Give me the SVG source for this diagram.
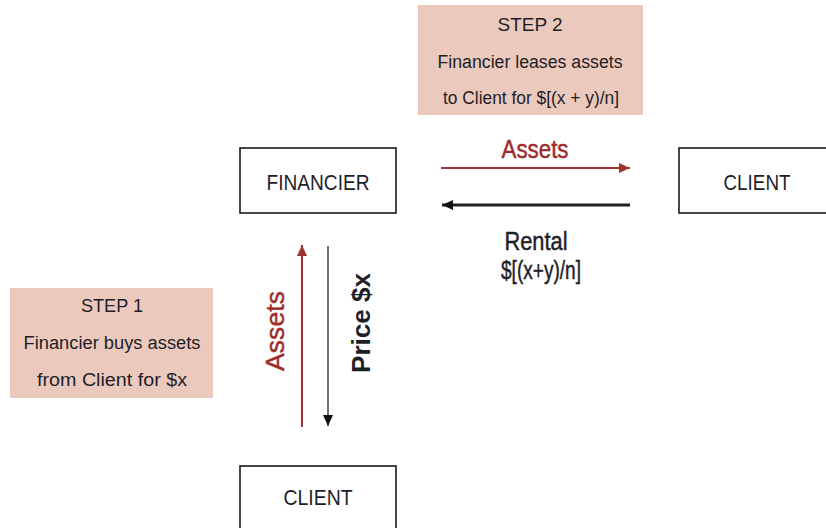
<svg xmlns="http://www.w3.org/2000/svg" width="826" height="528" viewBox="0 0 826 528">
  <style>
    .box { fill: #ffffff; stroke: #1a1a1a; stroke-width: 1.6; }
    .note { fill: #ecc9bd; stroke: none; }
    .t { font-family: "Liberation Sans", Arial, sans-serif; fill: #1e1e28; text-anchor: middle; }
    .nt { font-size: 18px; }
    .bt { font-size: 22px; }
    .lbl { font-size: 25px; stroke: #1e1e28; stroke-width: 0.45; }
    .red { fill: #9c2d2b; stroke: #9c2d2b; stroke-width: 0.45; }
    .red-line { stroke: #a0322f; stroke-width: 2; fill: none; }
    .blk-line { stroke: #222222; fill: none; }
  </style>
  <defs>
    <marker id="headRed" markerUnits="userSpaceOnUse" markerWidth="12" markerHeight="12" refX="11" refY="6" orient="auto">
      <path d="M0,1 L11,6 L0,11 z" fill="#a0322f"/>
    </marker>
    <marker id="headBlk" markerUnits="userSpaceOnUse" markerWidth="12" markerHeight="12" refX="11" refY="6" orient="auto">
      <path d="M0,1 L11,6 L0,11 z" fill="#111111"/>
    </marker>
  </defs>

  <!-- step notes -->
  <g id="step2">
    <rect class="note" x="418" y="5" width="225" height="110"/>
    <text class="t nt" x="530" y="31" textLength="65" lengthAdjust="spacingAndGlyphs">STEP 2</text>
    <text class="t nt" x="530" y="68" textLength="185" lengthAdjust="spacingAndGlyphs">Financier leases assets</text>
    <text class="t nt" x="531" y="104" textLength="176" lengthAdjust="spacingAndGlyphs">to Client for $[(x + y)/n]</text>
  </g>
  <g id="step1">
    <rect class="note" x="10" y="288" width="203" height="110"/>
    <text class="t nt" x="112" y="312" textLength="62" lengthAdjust="spacingAndGlyphs">STEP 1</text>
    <text class="t nt" x="112" y="349" textLength="177" lengthAdjust="spacingAndGlyphs">Financier buys assets</text>
    <text class="t nt" x="112" y="386" textLength="150" lengthAdjust="spacingAndGlyphs">from Client for $x</text>
  </g>

  <!-- parties -->
  <g id="financier">
    <rect class="box" x="240" y="148" width="156" height="65"/>
    <text class="t bt" x="318" y="190" textLength="103" lengthAdjust="spacingAndGlyphs">FINANCIER</text>
  </g>
  <g id="client-right">
    <rect class="box" x="679" y="148" width="160" height="65"/>
    <text class="t bt" x="757" y="190" textLength="67" lengthAdjust="spacingAndGlyphs">CLIENT</text>
  </g>
  <g id="client-bottom">
    <rect class="box" x="240" y="466" width="156" height="70"/>
    <text class="t bt" x="318" y="505" textLength="69" lengthAdjust="spacingAndGlyphs">CLIENT</text>
  </g>

  <!-- flows -->
  <g id="connectors">
    <line class="red-line" x1="441" y1="168" x2="630" y2="168" marker-end="url(#headRed)"/>
    <line class="blk-line" x1="630" y1="205" x2="442" y2="205" stroke-width="3" marker-end="url(#headBlk)"/>
    <line class="red-line" x1="302" y1="427" x2="302" y2="245" marker-end="url(#headRed)"/>
    <line class="blk-line" x1="328" y1="246" x2="328" y2="426" stroke-width="1.3" marker-end="url(#headBlk)"/>
  </g>

  <!-- flow labels -->
  <g id="labels">
    <text class="t lbl red" x="535" y="158" textLength="67" lengthAdjust="spacingAndGlyphs">Assets</text>
    <text class="t lbl" x="536" y="250" textLength="63" lengthAdjust="spacingAndGlyphs">Rental</text>
    <text class="t lbl" x="541" y="279" textLength="80" lengthAdjust="spacingAndGlyphs">$[(x+y)/n]</text>
    <text class="t red" font-size="26" transform="translate(284,331) rotate(-90)" textLength="80" lengthAdjust="spacingAndGlyphs">Assets</text>
    <text class="t" font-size="26" font-weight="bold" fill="#111" transform="translate(370,323) rotate(-90)" textLength="100" lengthAdjust="spacingAndGlyphs">Price $x</text>
  </g>
</svg>
